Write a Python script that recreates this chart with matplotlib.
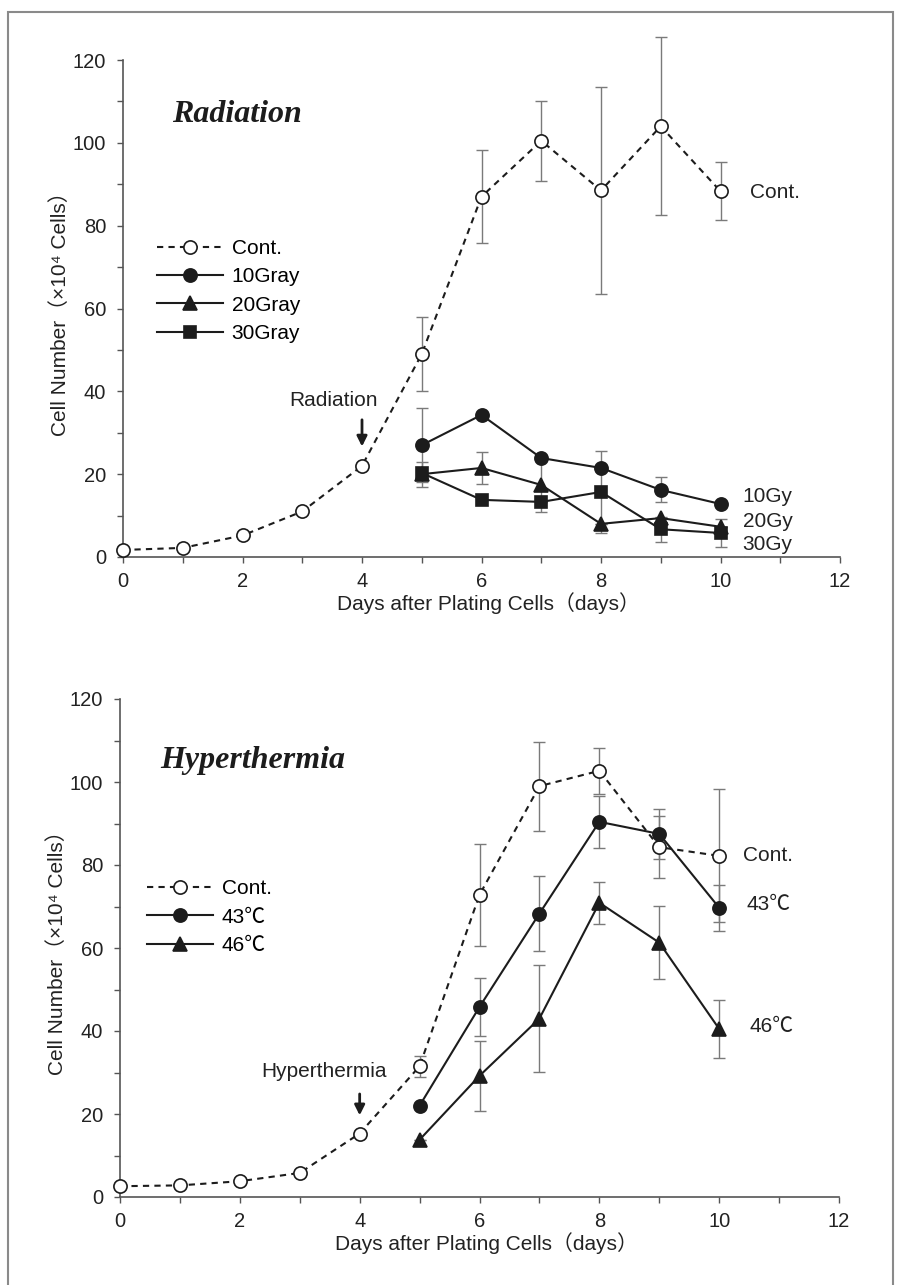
import matplotlib.pyplot as plt
from matplotlib.patches import Rectangle
from matplotlib.ticker import MultipleLocator

plt.rcParams['font.family'] = ['Liberation Sans', 'Noto Sans CJK JP']

days_all = [0, 1, 2, 3, 4, 5, 6, 7, 8, 9, 10]
days_tx = [5, 6, 7, 8, 9, 10]

# Radiation panel
rad_cont = [1.7, 2.2, 5.2, 11.0, 22.0, 49.0, 87.0, 100.5, 88.5, 104.0, 88.3]
rad_cont_err = [0, 0, 0, 0, 0, 8.9, 11.3, 9.7, 25.0, 21.5, 7.0]
gy10 = [27.0, 34.3, 23.9, 21.5, 16.2, 12.8]
gy10_err = [9.0, 0, 0, 0, 3.0, 0]
gy20 = [20.0, 21.5, 17.4, 8.0, 9.4, 7.3]
gy20_err = [3.0, 3.8, 6.5, 0, 0, 0]
gy30 = [20.3, 13.8, 13.3, 15.7, 6.7, 5.8]
gy30_err = [0, 0, 0, 10.0, 3.0, 3.3]

# Hyperthermia panel
hyp_cont = [2.6, 2.8, 3.8, 5.8, 15.3, 31.5, 72.8, 99.0, 102.7, 84.3, 82.2]
hyp_cont_err = [0, 0, 0, 0, 0, 2.5, 12.2, 10.7, 5.5, 7.5, 16.0]
c43 = [22.0, 45.8, 68.3, 90.4, 87.5, 69.7]
c43_err = [0, 7.0, 9.0, 6.2, 6.0, 5.5]
c46 = [13.8, 29.2, 43.0, 70.9, 61.3, 40.5]
c46_err = [0, 8.4, 12.8, 5.0, 8.8, 7.0]

ink = '#1c1c1c'
txt = '#222222'
grey = '#7a7a7a'
FS = 15

fig = plt.figure(figsize=(8.98, 12.85), dpi=100)
fig.patches.append(Rectangle((0.009, -0.02), 0.985, 1.011, transform=fig.transFigure,
                             fill=False, edgecolor='#8a8a8a', linewidth=1.5))

ax1 = fig.add_axes([123 / 898, 1 - 557 / 1285, 717 / 898, 497 / 1285])
ax2 = fig.add_axes([120 / 898, 1 - 1197 / 1285, 719 / 898, 498 / 1285])


def style(ax):
    for s in ['top', 'right']:
        ax.spines[s].set_visible(False)
    for s in ['left', 'bottom']:
        ax.spines[s].set_color('#555555')
        ax.spines[s].set_linewidth(1.2)
    ax.set_xlim(0, 12)
    ax.set_ylim(0, 120)
    ax.xaxis.set_major_locator(MultipleLocator(2))
    ax.xaxis.set_minor_locator(MultipleLocator(1))
    ax.yaxis.set_major_locator(MultipleLocator(20))
    ax.yaxis.set_minor_locator(MultipleLocator(10))
    ax.tick_params(which='both', direction='out', length=4, width=1, color='#555555',
                   labelsize=14.5, labelcolor=txt)
    ax.tick_params(axis='y', pad=8)
    ax.tick_params(axis='x', pad=7)
    ax.set_xlabel('Days after Plating Cells（days）', fontsize=FS, color=txt, labelpad=1)
    ax.set_ylabel('Cell Number（×10⁴ Cells）', fontsize=FS, color=txt)
    ax.yaxis.set_label_coords(-0.074, 0.5)
    ax.xaxis.set_label_coords(0.509, -0.07)


def series(ax, x, y, err, marker, filled, dashed, label, ms=9.5):
    ax.errorbar(x, y, yerr=err, fmt='none', ecolor=grey, elinewidth=1, capsize=4,
                capthick=1, zorder=2, clip_on=False)
    line, = ax.plot(x, y, color=ink, lw=1.5, marker=marker, ms=ms,
                    mfc='white' if not filled else ink, mec=ink, mew=1.2,
                    label=label, zorder=3, clip_on=False)
    if dashed:
        line.set_dashes((3, 2.5))
    return line


for ax in (ax1, ax2):
    style(ax)

# Radiation
series(ax1, days_all, rad_cont, rad_cont_err, 'o', False, True, 'Cont.')
series(ax1, days_tx, gy10, gy10_err, 'o', True, False, '10Gray')
series(ax1, days_tx, gy20, gy20_err, '^', True, False, '20Gray')
series(ax1, days_tx, gy30, gy30_err, 's', True, False, '30Gray', ms=8.5)

ax1.text(0.82, 106.8, 'Radiation', family='Liberation Serif', weight='bold', style='italic',
         fontsize=23, va='center', ha='left', color=ink)
ax1.text(3.53, 37.9, 'Radiation', fontsize=FS, ha='center', va='center', color=txt)
ax1.annotate('', xy=(4, 26.0), xytext=(4, 33.8),
             arrowprops=dict(arrowstyle='-|>', color=ink, lw=2, mutation_scale=15))
ax1.text(10.5, 88, 'Cont.', fontsize=FS, va='center', color=txt)
ax1.text(10.37, 14.6, '10Gy', fontsize=FS, va='center', color=txt)
ax1.text(10.37, 8.5, '20Gy', fontsize=FS, va='center', color=txt)
ax1.text(10.37, 3.0, '30Gy', fontsize=FS, va='center', color=txt)
ax1.legend(loc='upper left', bbox_to_anchor=(0.047, 0.640), frameon=False, fontsize=FS,
           handlelength=3.2, handletextpad=0.4, labelspacing=0.45, borderpad=0, borderaxespad=0)

# Hyperthermia
series(ax2, days_all, hyp_cont, hyp_cont_err, 'o', False, True, 'Cont.')
series(ax2, days_tx, c43, c43_err, 'o', True, False, '43℃')
series(ax2, days_tx, c46, c46_err, '^', True, False, '46℃')

ax2.text(0.67, 105.3, 'Hyperthermia', family='Liberation Serif', weight='bold', style='italic',
         fontsize=23, va='center', ha='left', color=ink)
ax2.text(3.4, 30.2, 'Hyperthermia', fontsize=FS, ha='center', va='center', color=txt)
ax2.annotate('', xy=(4, 19.0), xytext=(4, 25.5),
             arrowprops=dict(arrowstyle='-|>', color=ink, lw=2, mutation_scale=15))
ax2.text(10.4, 82.4, 'Cont.', fontsize=FS, va='center', color=txt)
ax2.text(10.45, 70.4, '43℃', fontsize=FS, va='center', color=txt)
ax2.text(10.5, 41.0, '46℃', fontsize=FS, va='center', color=txt)
ax2.legend(loc='upper left', bbox_to_anchor=(0.037, 0.638), frameon=False, fontsize=FS,
           handlelength=3.2, handletextpad=0.4, labelspacing=0.45, borderpad=0, borderaxespad=0)

fig.savefig('out.png', dpi=100)
